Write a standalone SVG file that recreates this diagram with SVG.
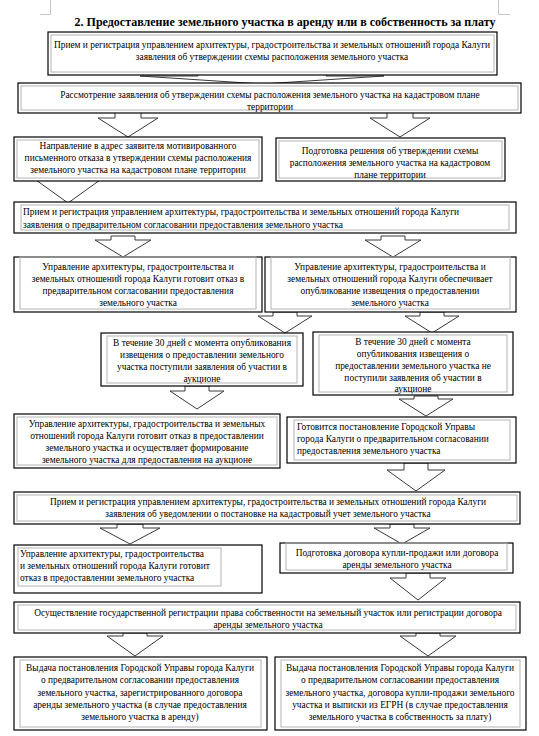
<svg xmlns="http://www.w3.org/2000/svg" width="539" height="736" viewBox="0 0 539 736">
<style>
.o{fill:#fff;stroke:#000;stroke-width:1.2}
.i{fill:none;stroke:#b4b4b4;stroke-width:1}
.t{font-family:"Liberation Serif","Times New Roman",serif;font-size:9.4px;fill:#000}
.c{text-anchor:middle}
.ttl{font-family:"Liberation Serif","Times New Roman",serif;font-size:12px;font-weight:bold;text-anchor:middle}
.ar{fill:#fff;stroke:#3a3a3a;stroke-width:1}
.cm{fill:none;stroke:#c8c8c8;stroke-width:1}
</style>
<path class="cm" d="M40 14.5H50.5V0M510 14.5H498.5V0"/>
<text class="ttl" x="285" y="26">2. Предоставление земельного участка в аренду или в собственность за плату</text>
<g id="connectors">
<polygon class="ar" points="198,70 198,76 140,76 262,84 384,76 326,76 326,70"/>
<polygon class="ar" points="115,112 115,118 98,118 128,137 158,118 141,118 141,112"/>
<polygon class="ar" points="387,112 387,118 370,118 400,137 430,118 413,118 413,112"/>
<polygon class="ar" points="54,175 54,180 36,180 68,203 100,180 82,180 82,175"/>
<polygon class="ar" points="111,236 111,240 95,240 123,257 151,240 135,240 135,236"/>
<polygon class="ar" points="381,236 381,240 365,240 393,257 421,240 405,240 405,236"/>
<polygon class="ar" points="273,312 273,316 258,316 285,333 312,316 297,316 297,312"/>
<polygon class="ar" points="420,312 420,316 405,316 432,333 459,316 444,316 444,312"/>
<polygon class="ar" points="185,386 185,391 170,391 197,409 224,391 209,391 209,386"/>
<polygon class="ar" points="414,396 414,399 399,399 426,416 453,399 438,399 438,396"/>
<polygon class="ar" points="404,463 404,470 387,470 416,491 445,470 428,470 428,463"/>
<polygon class="ar" points="117,524 117,528 100,528 130,544 160,528 143,528 143,524"/>
<polygon class="ar" points="390,524 390,528 374,528 402,544 430,528 414,528 414,524"/>
<polygon class="ar" points="406,573 406,578 390,578 418,600 446,578 430,578 430,573"/>
<polygon class="ar" points="123,633 123,636 107,636 135,656 163,636 147,636 147,633"/>
<polygon class="ar" points="416,633 416,636 400,636 428,656 456,636 440,636 440,633"/>
</g>
<g id="n1"><rect class="o" x="48" y="32" width="449" height="43"/><rect class="i" x="51" y="35" width="443" height="37"/>
<text class="t c" x="272" y="48">Прием и регистрация управлением архитектуры, градостроительства и земельных отношений города Калуги</text>
<text class="t c" x="272" y="60">заявления об утверждении схемы расположения земельного участка</text></g>
<g id="n2"><rect class="o" x="18" y="83" width="503" height="30"/><rect class="i" x="21" y="86" width="497" height="24"/>
<text class="t c" x="270" y="98">Рассмотрение заявления об утверждении схемы расположения земельного участка  на кадастровом плане</text>
<text class="t c" x="270" y="110">территории</text></g>
<g id="n3"><rect class="o" x="14" y="137" width="248" height="44"/><rect class="i" x="17" y="140" width="242" height="38"/>
<text class="t c" x="138" y="149">Направление в адрес заявителя мотивированного</text>
<text class="t c" x="138" y="161">письменного отказа в утверждении схемы расположения</text>
<text class="t c" x="138" y="173">земельного участка на кадастровом плане территории</text></g>
<g id="n4"><rect class="o" x="276" y="138" width="229" height="43"/><rect class="i" x="279" y="141" width="223" height="37"/>
<text class="t c" x="390" y="154">Подготовка решения об утверждении схемы</text>
<text class="t c" x="390" y="166">расположения земельного участка на кадастровом</text>
<text class="t c" x="390" y="178">плане территории</text></g>
<g id="n5"><rect class="o" x="14" y="202" width="502" height="31"/><rect class="i" x="21" y="205" width="488" height="25"/>
<text class="t" x="23" y="215">Прием и регистрация управлением архитектуры, градостроительства и земельных отношений города Калуги</text>
<text class="t" x="23" y="228">заявления о предварительном согласовании предоставления земельного участка</text></g>
<g id="n6"><rect class="o" x="14" y="257" width="248" height="55"/><rect class="i" x="20" y="257" width="236" height="52"/>
<text class="t c" x="138" y="270">Управление архитектуры, градостроительства и</text>
<text class="t c" x="138" y="282">земельных отношений города Калуги готовит отказ в</text>
<text class="t c" x="138" y="294">предварительном согласовании предоставления</text>
<text class="t c" x="138" y="306">земельного участка</text></g>
<g id="n7"><rect class="o" x="265" y="257" width="251" height="55"/><rect class="i" x="271" y="257" width="239" height="52"/>
<text class="t c" x="390" y="270">Управление архитектуры, градостроительства и</text>
<text class="t c" x="390" y="282">земельных отношений города Калуги обеспечивает</text>
<text class="t c" x="390" y="294">опубликование извещения о предоставлении</text>
<text class="t c" x="390" y="306">земельного участка</text></g>
<g id="n8"><rect class="o" x="101" y="333" width="202" height="53"/><rect class="i" x="107" y="336" width="190" height="47"/>
<text class="t c" x="202" y="346">В течение 30 дней с момента опубликования</text>
<text class="t c" x="202" y="358">извещения о предоставлении земельного</text>
<text class="t c" x="202" y="370">участка поступили заявления об участии в</text>
<text class="t c" x="202" y="382">аукционе</text></g>
<g id="n9"><rect class="o" x="313" y="332" width="200" height="63"/><rect class="i" x="319" y="335" width="188" height="57"/>
<text class="t c" x="413" y="345">В течение 30 дней с момента</text>
<text class="t c" x="413" y="357">опубликования извещения о</text>
<text class="t c" x="413" y="369">предоставлении земельного участка не</text>
<text class="t c" x="413" y="381">поступили заявления об участии в</text>
<text class="t c" x="413" y="392">аукционе</text></g>
<g id="n10"><rect class="o" x="14" y="414" width="266" height="54"/><rect class="i" x="17" y="417" width="260" height="48"/>
<text class="t c" x="147" y="427">Управление архитектуры, градостроительства и земельных</text>
<text class="t c" x="147" y="439">отношений города Калуги готовит отказ в предоставлении</text>
<text class="t c" x="147" y="451">земельного участка и осуществляет формирование</text>
<text class="t c" x="147" y="463">земельного участка для предоставления на аукционе</text></g>
<g id="n11"><rect class="o" x="287" y="417" width="229" height="46"/><rect class="i" x="294" y="420" width="216" height="40"/>
<text class="t" x="297" y="430">Готовится постановление Городской Управы</text>
<text class="t" x="297" y="442">города Калуги о предварительном согласовании</text>
<text class="t" x="297" y="454">предоставления земельного участка</text></g>
<g id="n12"><rect class="o" x="14" y="492" width="506" height="32"/><rect class="i" x="17" y="495" width="500" height="26"/>
<text class="t c" x="268" y="505">Прием и регистрация управлением архитектуры, градостроительства и земельных отношений города Калуги</text>
<text class="t c" x="268" y="517">заявления об уведомлении о постановке на кадастровый учет земельного участка</text></g>
<g id="n13"><rect class="o" x="14" y="545" width="248" height="48"/><rect class="i" x="18" y="548" width="203" height="38"/>
<text class="t" x="20" y="557">Управление архитектуры, градостроительства</text>
<text class="t" x="20" y="569">и земельных отношений города Калуги готовит</text>
<text class="t" x="20" y="581">отказ в предоставлении земельного участка</text></g>
<g id="n14"><rect class="o" x="280" y="543" width="233" height="30"/><rect class="i" x="286" y="543" width="221" height="27"/>
<text class="t c" x="397" y="556">Подготовка договора купли-продажи или договора</text>
<text class="t c" x="397" y="568">аренды земельного участка</text></g>
<g id="n15"><rect class="o" x="14" y="602" width="506" height="31"/><rect class="i" x="18" y="605" width="498" height="25"/>
<text class="t c" x="268" y="616">Осуществление государственной регистрации права собственности на земельный участок или регистрации договора</text>
<text class="t c" x="268" y="628">аренды земельного участка</text></g>
<g id="n16"><rect class="o" x="14" y="657" width="253" height="73"/><rect class="i" x="20" y="660" width="241" height="67"/>
<text class="t c" x="140" y="671">Выдача постановления Городской Управы города Калуги</text>
<text class="t c" x="140" y="683">о предварительном согласовании предоставления</text>
<text class="t c" x="140" y="696">земельного участка, зарегистрированного договора</text>
<text class="t c" x="140" y="708">аренды земельного участка (в случае предоставления</text>
<text class="t c" x="140" y="720">земельного участка в аренду)</text></g>
<g id="n17"><rect class="o" x="275" y="657" width="251" height="73"/><rect class="i" x="281" y="660" width="239" height="67"/>
<text class="t c" x="400" y="671">Выдача постановления Городской Управы города Калуги</text>
<text class="t c" x="400" y="683">о предварительном согласовании предоставления</text>
<text class="t c" x="400" y="696">земельного участка, договора купли-продажи земельного</text>
<text class="t c" x="400" y="708">участка и выписки из ЕГРН (в случае предоставления</text>
<text class="t c" x="400" y="720">земельного участка в собственность за плату)</text></g>
</svg>
